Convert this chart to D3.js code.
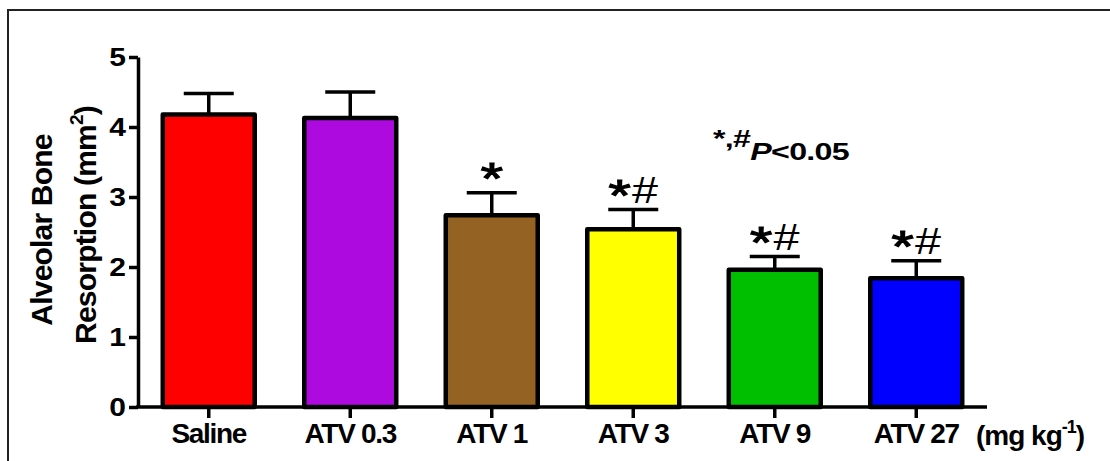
<!DOCTYPE html>
<html><head><meta charset="utf-8">
<script src="https://cdn.jsdelivr.net/npm/d3@7"></script>
<style>body{margin:0;background:#fff;overflow:hidden} text{font-family:"Liberation Sans",Arial,sans-serif}</style>
</head><body>
<svg id="c" width="1110" height="461"></svg>
<script>
const categories = ["Saline","ATV 0.3","ATV 1","ATV 3","ATV 9","ATV 27"];
const means = [4.18, 4.13, 2.74, 2.54, 1.96, 1.84];
const sems = [0.30, 0.37, 0.32, 0.28, 0.19, 0.25];
const colors = ["#ff0000","#ad0ae0","#946222","#ffff00","#00bf00","#0000ff"];
const marks = ["", "", "*", "*#", "*#", "*#"];
const yTicks = [0,1,2,3,4,5];

const svg = d3.select("#c");
// frame
svg.append("path").attr("d","M8,461V10H1110").attr("fill","none").attr("stroke","#222").attr("stroke-width",2);

const y = d3.scaleLinear().domain([0,5]).range([407,57]);
const x = d3.scaleBand().domain(categories).range([138,987]).paddingInner(0.35).paddingOuter(0.175);

const data = categories.map((c,i)=>({c,m:means[i],s:sems[i],col:colors[i],mk:marks[i]}));

// error bars (upper only)
const eb = svg.append("g").attr("stroke","#000");
eb.selectAll("line.v").data(data).join("line")
  .attr("x1",d=>x(d.c)+x.bandwidth()/2).attr("x2",d=>x(d.c)+x.bandwidth()/2)
  .attr("y1",d=>y(d.m)).attr("y2",d=>y(d.m+d.s)).attr("stroke-width",3.5);
eb.selectAll("line.h").data(data).join("line")
  .attr("x1",d=>x(d.c)+x.bandwidth()/2-25).attr("x2",d=>x(d.c)+x.bandwidth()/2+25)
  .attr("y1",d=>y(d.m+d.s)).attr("y2",d=>y(d.m+d.s)).attr("stroke-width",3.5);

// bars
svg.append("g").selectAll("rect").data(data).join("rect")
  .attr("x",d=>x(d.c)).attr("width",x.bandwidth())
  .attr("y",d=>y(d.m)).attr("height",d=>y(0)-y(d.m))
  .attr("fill",d=>d.col).attr("stroke","#000").attr("stroke-width",4.5).attr("stroke-linejoin","round");

// significance marks
const mg = svg.append("g").selectAll("text").data(data.filter(d=>d.mk)).join("text")
  .attr("transform",d=>`translate(${x(d.c)+x.bandwidth()/2},${y(d.m+d.s)-7}) scale(1.3,1)`)
  .attr("text-anchor","middle").attr("font-size",36);
mg.each(function(d){
  const t = d3.select(this);
  t.append("tspan").attr("font-size",44).attr("dy",8).attr("stroke","#000").attr("stroke-width",1.2).text("*");
  if (d.mk.length>1) t.append("tspan").attr("dy",-8).attr("dx",1).text(d.mk.slice(1));
});

// y axis
const ya = svg.append("g").attr("transform","translate(138,0)")
  .call(d3.axisLeft(y).tickValues(yTicks).tickFormat(d3.format("d")).tickSize(9).tickSizeOuter(0).tickPadding(3));
ya.select(".domain").attr("stroke-width",3.5);
ya.selectAll(".tick line").attr("stroke-width",3.5);
ya.selectAll(".tick text").attr("font-size",25).attr("font-weight","bold").attr("fill","#000")
  .attr("transform","translate(-12,0) scale(1.2,1)").attr("x",0).attr("text-anchor","end");

// x axis
const xa = svg.append("g").attr("transform","translate(0,407)")
  .call(d3.axisBottom(x).tickSize(11).tickSizeOuter(0).tickPadding(5));
xa.select(".domain").attr("stroke-width",3.5).attr("d","M136,0H987");
xa.selectAll(".tick line").attr("stroke-width",3.5);
xa.selectAll(".tick text").attr("font-size",28).attr("font-weight","bold").attr("fill","#000")
  .attr("letter-spacing",-1.3);

// unit label
const ul = svg.append("text").attr("x",976).attr("y",445).attr("font-size",28).attr("font-weight","bold").attr("letter-spacing",-1);
ul.append("tspan").text("(mg kg");
ul.append("tspan").attr("font-size",18).attr("dy",-12).text("-1");
ul.append("tspan").attr("dy",12).text(")");

// y label
const yl = svg.append("g").attr("transform","translate(0,230) rotate(-90)");
yl.append("text").attr("x",0).attr("y",52).attr("text-anchor","middle").attr("font-size",30).attr("font-weight","bold").attr("letter-spacing",-0.8).text("Alveolar Bone");
const yl2 = yl.append("text").attr("x",5).attr("y",96).attr("text-anchor","middle").attr("font-size",30).attr("font-weight","bold").attr("letter-spacing",-0.8);
yl2.append("tspan").text("Resorption (mm");
yl2.append("tspan").attr("font-size",19).attr("dy",-13).text("2");
yl2.append("tspan").attr("dy",13).text(")");

// p-value note
const pn = svg.append("text").attr("transform","translate(713,160) scale(1.4,1)").attr("font-size",23).attr("font-weight","bold").attr("letter-spacing",-0.5);
pn.append("tspan").attr("dy",-13).text("*,#");
pn.append("tspan").attr("dy",13).attr("font-style","italic").text("P");
pn.append("tspan").text("<0.05");
</script>
</body></html>
